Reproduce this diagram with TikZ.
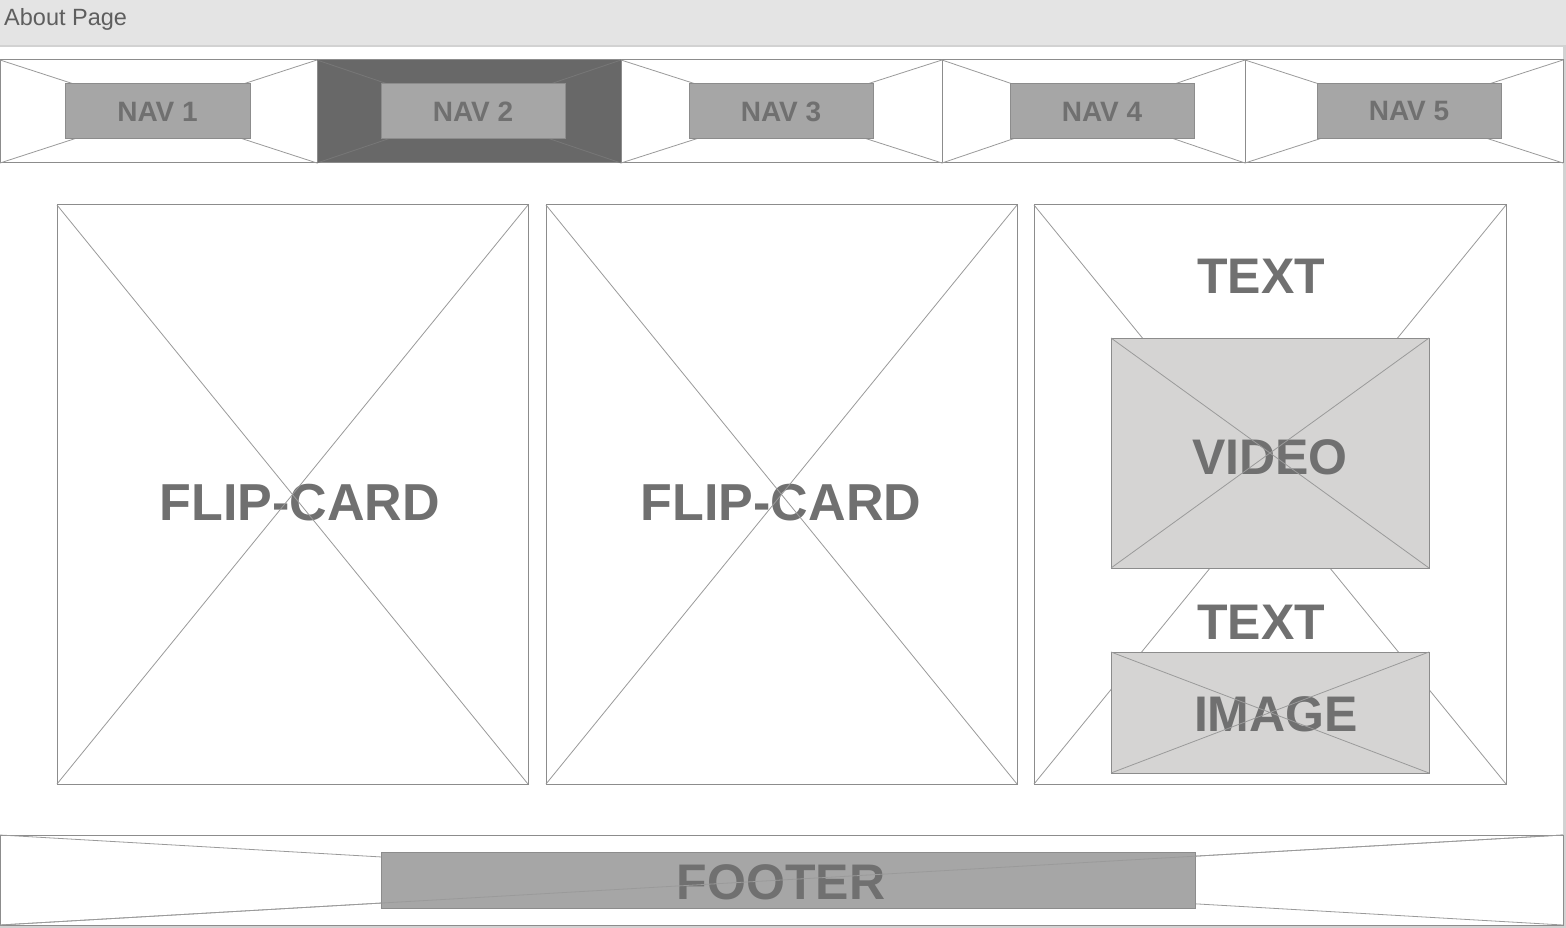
\documentclass[tikz,border=0pt]{standalone}
\usepackage{fontspec}
\setmainfont{Liberation Sans}
\definecolor{barc}{HTML}{E4E4E4}
\definecolor{framec}{HTML}{D2D2D2}
\definecolor{txtc}{HTML}{707070}
\definecolor{titlec}{HTML}{5E5E5E}
\definecolor{lnc}{HTML}{8C8C8C}
\definecolor{xlc}{HTML}{9A9A9A}
\definecolor{navfill}{HTML}{A6A6A6}
\definecolor{navdark}{HTML}{686868}
\definecolor{mediac}{HTML}{D5D4D3}
\tikzset{
  box/.style={rectangle, draw=lnc, line width=1pt, inner sep=0pt, outer sep=0pt, anchor=north west},
  xline/.style={draw=xlc, line width=0.8pt},
  navbox/.style={box, fill=navfill, text=txtc, font=\fontsize{28}{28}\selectfont\bfseries},
  bigtxt/.style={text=txtc, inner sep=0pt, font=\fontsize{52}{52}\selectfont\bfseries},
  midtxt/.style={text=txtc, inner sep=0pt, font=\fontsize{50}{50}\selectfont\bfseries},
}
\begin{document}
\begin{tikzpicture}[x=1pt,y=-1pt]
\useasboundingbox (0,0) rectangle (1566,928);
% window background and frame
\fill[framec] (0,0) rectangle (1566,928);
\fill[white] (0,47) rectangle (1563,925);
\fill[barc] (0,0) rectangle (1566,45);
\node[anchor=west, inner sep=0pt, text=titlec, font=\fontsize{23.5}{23.5}\selectfont] (ttl) at (4,19) {About Page};

% nav cells
\node[box, minimum width=317, minimum height=103] (c1) at (0,60) {};
\node[box, fill=navdark, minimum width=304, minimum height=103] (c2) at (317,60) {};
\node[box, minimum width=321, minimum height=103] (c3) at (621,60) {};
\node[box, minimum width=303, minimum height=103] (c4) at (942,60) {};
\node[box, minimum width=318, minimum height=103] (c5) at (1245,60) {};
\foreach \c in {c1,c3,c4,c5}{
  \draw[xline] (\c.north west) -- (\c.south east) (\c.south west) -- (\c.north east);
}
\draw[draw=navdark!90!white, line width=0.8pt] (c2.north west) -- (c2.south east) (c2.south west) -- (c2.north east);
\node[navbox, minimum width=185, minimum height=55] (n1) at (65,84) {NAV 1};
\node[navbox, minimum width=184, minimum height=55] (n2) at (381,84) {NAV 2};
\node[navbox, minimum width=184, minimum height=55] (n3) at (689,84) {NAV 3};
\node[navbox, minimum width=184, minimum height=55] (n4) at (1010,84) {NAV 4};
\node[navbox, minimum width=184, minimum height=55] (n5) at (1317,84) {NAV 5};

% flip cards
\node[box, minimum width=471, minimum height=579] (f1) at (57,205) {};
\node[box, minimum width=471, minimum height=579] (f2) at (546,205) {};
\node[bigtxt] (l1) at (300,503) {FLIP-CARD};
\node[bigtxt] (l2) at (781,503) {FLIP-CARD};
\foreach \c in {f1,f2}{
  \draw[xline] (\c.north west) -- (\c.south east) (\c.south west) -- (\c.north east);
}

% right panel
\node[box, minimum width=472, minimum height=579] (p3) at (1034,205) {};
\draw[xline] (p3.north west) -- (p3.south east) (p3.south west) -- (p3.north east);
\node[midtxt] (t1) at (1261,276) {TEXT};
\node[midtxt] (t2) at (1261,622) {TEXT};
\node[box, fill=mediac, minimum width=318, minimum height=230] (vid) at (1111,338) {};
\node[midtxt] (lv) at (1270,457) {VIDEO};
\draw[xline] (vid.north west) -- (vid.south east) (vid.south west) -- (vid.north east);
\node[box, fill=mediac, minimum width=318, minimum height=121] (img) at (1111,652) {};
\node[midtxt] (li) at (1276,714) {IMAGE};
\draw[xline] (img.north west) -- (img.south east) (img.south west) -- (img.north east);

% footer
\node[box, minimum width=1563, minimum height=90] (ft) at (0,835) {};
\draw[xline] (ft.north west) -- (ft.south east) (ft.south west) -- (ft.north east);
\node[box, fill=navfill, minimum width=814, minimum height=56] (fb) at (381,852) {};
\node[midtxt] (lf) at (781,882) {FOOTER};
\draw[xline] (ft.south west) -- (ft.north east);
\end{tikzpicture}
\end{document}
